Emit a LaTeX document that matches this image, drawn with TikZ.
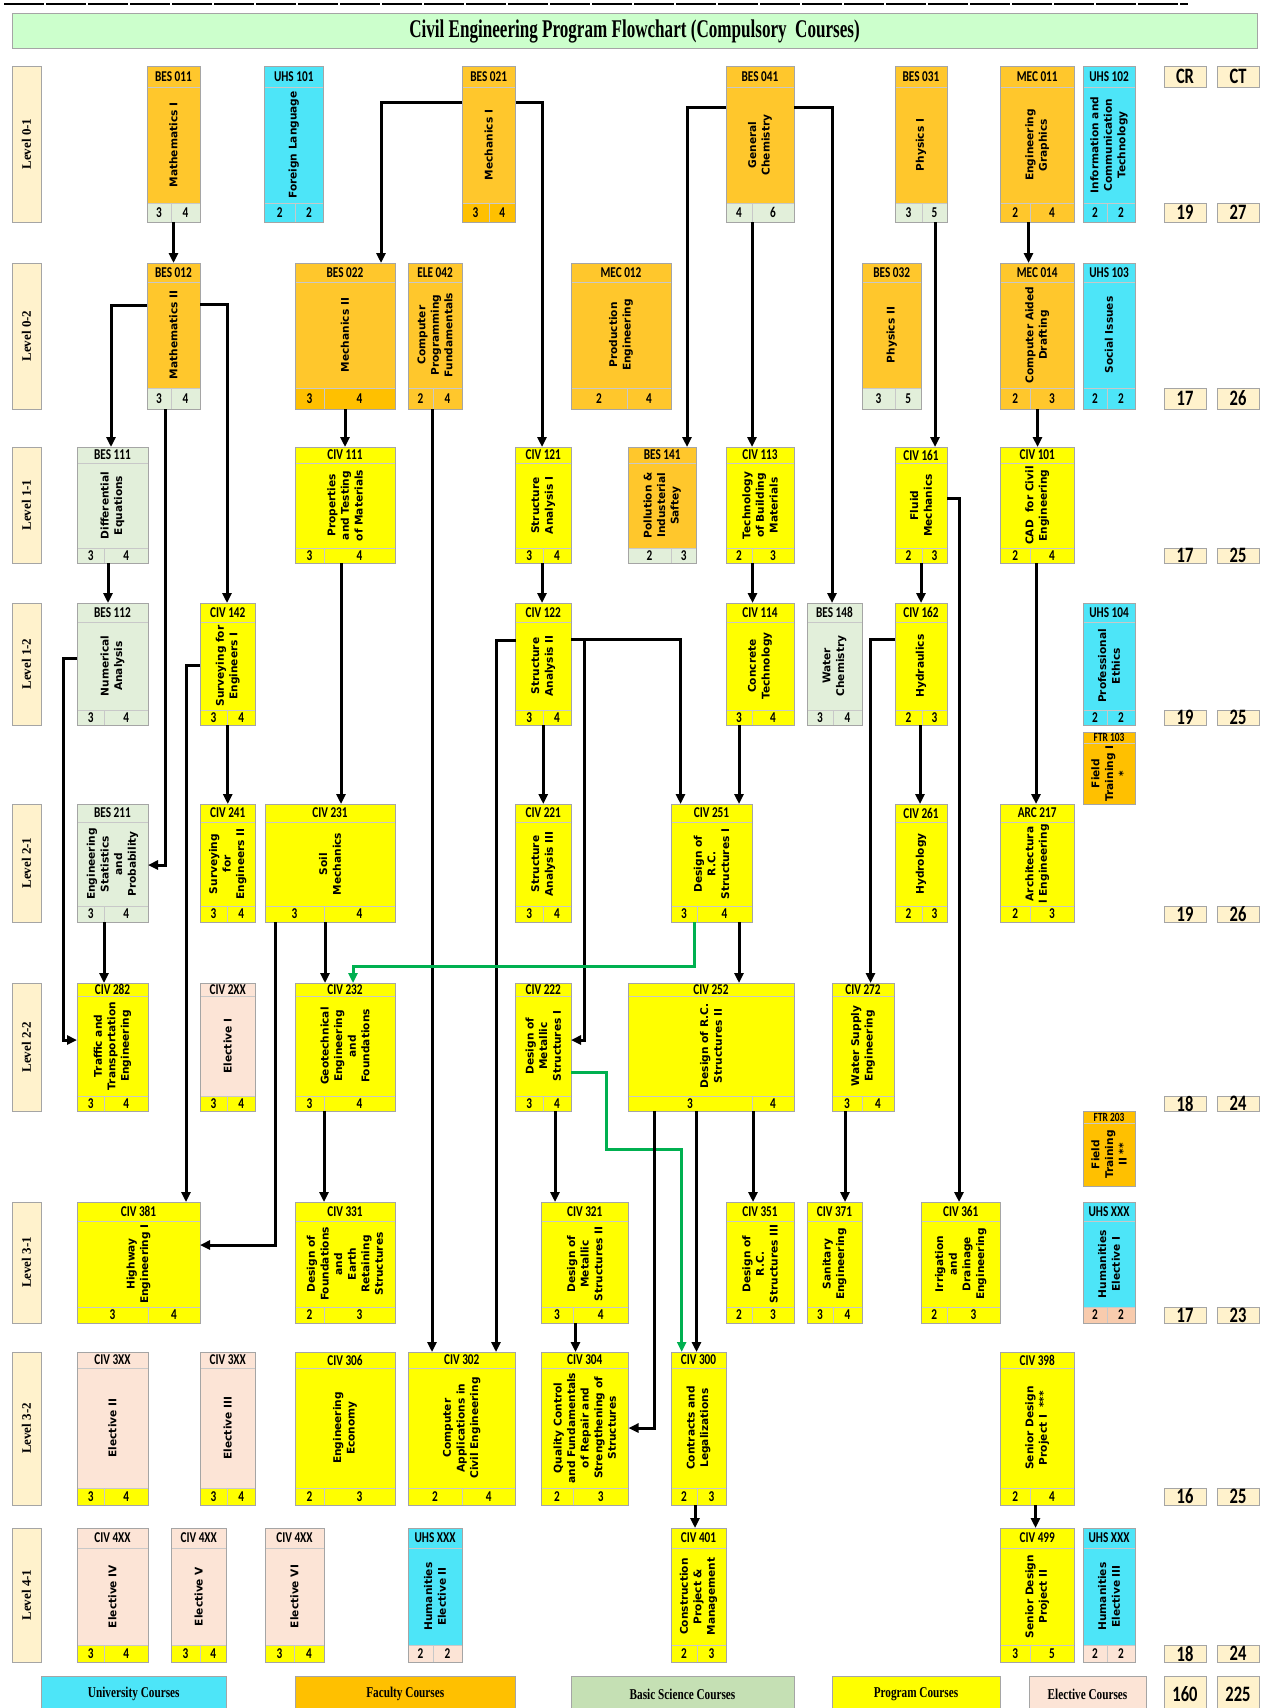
\documentclass[tikz,border=0pt]{standalone}
\usepackage{fontspec}
\setmainfont{DejaVu Sans}
\newfontfamily\bodyfont{DejaVu Sans}
\newfontfamily\condsans{Carlito}[FakeStretch=0.75]
\newfontfamily\serifb{Liberation Serif}
\newfontfamily\titlefont{Liberation Serif}[FakeStretch=0.67]
\newfontfamily\legfont{Liberation Serif}[FakeStretch=0.75]
\usetikzlibrary{arrows.meta}

\definecolor{cyanU}{HTML}{4DE5F8}
\definecolor{facB}{HTML}{FFC72C}
\definecolor{facD}{HTML}{FFC000}
\definecolor{basG}{HTML}{E2EFDA}
\definecolor{basL}{HTML}{C5E0B4}
\definecolor{progY}{HTML}{FFFF00}
\definecolor{elecP}{HTML}{FCE4D6}
\definecolor{humP}{HTML}{F8CBAD}
\definecolor{levF}{HTML}{FFF2CC}
\definecolor{titG}{HTML}{CCFFCC}
\definecolor{arrgreen}{HTML}{00B050}
\definecolor{boxgray}{HTML}{A5A5A5}
\definecolor{sepgray}{HTML}{C8C8C8}

\tikzset{
 boxline/.style={draw=boxgray, line width=0.9pt, rectangle, inner sep=0pt, outer sep=0pt},
 sepline/.style={draw=sepgray, line width=0.8pt},
 codetext/.style={font=\condsans\bfseries\fontsize{15}{15}\selectfont, inner sep=0pt},
 ftrcode/.style={font=\condsans\bfseries\fontsize{12.5}{12.5}\selectfont, inner sep=0pt},
 bodytext/.style={font=\bodyfont\bfseries\fontsize{10.6}{13.6}\selectfont, rotate=90, align=center, inner sep=0pt},
 numtext/.style={font=\condsans\bfseries\fontsize{15}{15}\selectfont, inner sep=0pt},
 lvlbox/.style={boxline, fill=levF, line width=1pt},
 lvltext/.style={font=\serifb\bfseries\fontsize{13}{13}\selectfont, rotate=90, inner sep=0pt},
 totbox/.style={boxline, fill=levF, line width=1pt, minimum width=42pt},
 tottext/.style={font=\condsans\bfseries\fontsize{22}{22}\selectfont, inner sep=0pt},
 legbox/.style={boxline, line width=1pt, font=\legfont\bfseries\fontsize{15}{15}\selectfont},
 conn/.style={line width=3pt, -{Triangle[length=10pt,width=9pt]}, draw=black},
 gconn/.style={conn, draw=arrgreen},
}

\newcommand\setlev[4]{\def\Ya{#1}\def\Yh{#2}\def\Yf{#3}\def\Yb{#4}}
\def\splitcol#1/#2\relax{\def\Cb{#1}\def\Cf{#2}}

% name, x1, xsplit, x2, code, title, n1, n2, body/foot colours
\newcommand\course[9]{%
 \splitcol#9\relax
 \pgfmathsetmacro\qcx{(#2+#4)/2}%
 \pgfmathsetmacro\qcy{(\Ya+\Yb)/2}%
 \pgfmathsetmacro\qbw{#4-#2}%
 \pgfmathsetmacro\qbh{\Yb-\Ya}%
 \pgfmathsetmacro\qhy{(\Ya+\Yh)/2}%
 \pgfmathsetmacro\qby{(\Yh+\Yf)/2}%
 \pgfmathsetmacro\qfy{(\Yf+\Yb)/2}%
 \pgfmathsetmacro\qfa{(#2+#3)/2}%
 \pgfmathsetmacro\qfb{(#3+#4)/2}%
 \fill[fill=\Cb] (#2,\Ya) rectangle (#4,\Yf);
 \fill[fill=\Cf] (#2,\Yf) rectangle (#4,\Yb);
 \draw[sepline] (#2,\Yh) -- (#4,\Yh) (#2,\Yf) -- (#4,\Yf) (#3,\Yf) -- (#3,\Yb);
 \node[boxline, minimum width=\qbw pt, minimum height=\qbh pt] (#1) at (\qcx,\qcy) {};
 \node[codetext] (#1-c) at (\qcx,\qhy) {#5};
 \node[bodytext] (#1-t) at (\qcx,\qby) {#6};
 \node[numtext] (#1-a) at (\qfa,\qfy) {#7};
 \node[numtext] (#1-b) at (\qfb,\qfy) {#8};
}

% name, x1, x2, y1, yh, y2, code, title
\newcommand\ftrbox[8]{%
 \pgfmathsetmacro\qcx{(#2+#3)/2}%
 \pgfmathsetmacro\qcy{(#4+#6)/2}%
 \pgfmathsetmacro\qbw{#3-#2}%
 \pgfmathsetmacro\qbh{#6-#4}%
 \pgfmathsetmacro\qhy{(#4+#5)/2}%
 \pgfmathsetmacro\qby{(#5+#6)/2}%
 \fill[fill=facD] (#2,#4) rectangle (#3,#6);
 \draw[sepline] (#2,#5) -- (#3,#5);
 \node[boxline, minimum width=\qbw pt, minimum height=\qbh pt] (#1) at (\qcx,\qcy) {};
 \node[ftrcode] (#1-c) at (\qcx,\qhy) {#7};
 \node[bodytext] (#1-t) at (\qcx,\qby) {#8};
}

% name, y1, y2, text
\newcommand\lvl[4]{%
 \pgfmathsetmacro\qcy{(#2+#3)/2}%
 \pgfmathsetmacro\qbh{#3-#2}%
 \node[lvlbox, minimum width=29pt, minimum height=\qbh pt] (#1) at (26.5,\qcy) {};
 \node[lvltext] (#1-t) at (26.5,\qcy) {#4};
}

% name, xc, y1, y2, text
\newcommand\tot[5]{%
 \pgfmathsetmacro\qcy{(#3+#4)/2}%
 \pgfmathsetmacro\qbh{#4-#3}%
 \node[totbox, minimum height=\qbh pt] (#1) at (#2,\qcy) {};
 \node[tottext] (#1-t) at (#2,\qcy) {#5};
}

\begin{document}
\begin{tikzpicture}[x=1pt,y=-1pt]
\useasboundingbox (0,0) rectangle (1265,1708);

% top rule and title
\draw[line width=1.6pt, dash pattern=on 40pt off 2pt] (4,4) -- (1188,4);
\node[boxline, fill=titG, line width=1pt, minimum width=1245pt, minimum height=35pt] (title) at (634.5,30.5) {};
\node[font=\titlefont\bfseries\fontsize{25.5}{28}\selectfont, inner sep=0pt] (title-t) at (634.5,31.5) {Civil Engineering Program Flowchart (Compulsory\ \ Courses)};

% level labels
\lvl{l01}{66}{222}{Level 0-1}
\lvl{l02}{263}{409}{Level 0-2}
\lvl{l11}{447}{563}{Level 1-1}
\lvl{l12}{603}{725}{Level 1-2}
\lvl{l21}{804}{922}{Level 2-1}
\lvl{l22}{983}{1111}{Level 2-2}
\lvl{l31}{1202}{1323}{Level 3-1}
\lvl{l32}{1352}{1505}{Level 3-2}
\lvl{l41}{1528}{1662}{Level 4-1}

% Level 0-1
\setlev{66}{87}{203}{222}
\course{bes011}{147}{171}{200}{BES 011}{Mathematics I}{3}{4}{facB/basG}
\course{uhs101}{264.5}{295}{323}{UHS 101}{Foreign Language}{2}{2}{cyanU/cyanU}
\course{bes021}{462}{489}{515.5}{BES 021}{Mechanics I}{3}{4}{facB/facD}
\course{bes041}{726}{752}{794}{BES 041}{General\\Chemistry}{4}{6}{facB/basG}
\course{bes031}{895}{922}{947}{BES 031}{Physics I}{3}{5}{facB/basG}
\course{mec011}{1000.5}{1030}{1074}{MEC 011}{Engineering\\Graphics}{2}{4}{facB/facB}
\course{uhs102}{1083}{1107}{1135}{UHS 102}{Information and\\Communication\\Technology}{2}{2}{cyanU/cyanU}

% Level 0-2
\setlev{263}{282}{388}{409}
\course{bes012}{147}{171}{200}{BES 012}{Mathematics II}{3}{4}{facB/basG}
\course{bes022}{295}{324}{395}{BES 022}{Mechanics II}{3}{4}{facB/facD}
\course{ele042}{408}{433}{462}{ELE 042}{Computer\\Programming\\Fundamentals}{2}{4}{facB/facB}
\course{mec012}{571}{627}{671}{MEC 012}{Production\\Engineering}{2}{4}{facB/facB}
\course{bes032}{862}{895}{921.5}{BES 032}{Physics II}{3}{5}{facB/basG}
\course{mec014}{1000.5}{1030}{1074}{MEC 014}{Computer Aided\\Drafting}{2}{3}{facB/facB}
\course{uhs103}{1083}{1107}{1135}{UHS 103}{Social Issues}{2}{2}{cyanU/cyanU}

% Level 1-1
\setlev{447}{463}{548}{563}
\course{bes111}{77}{104.5}{148}{BES 111}{Differential\\Equations}{3}{4}{basG/basG}
\course{civ111}{295}{324}{395}{CIV 111}{Properties\\and Testing\\of Materials}{3}{4}{progY/progY}
\course{civ121}{515.5}{543}{571}{CIV 121}{Structure\\Analysis I}{3}{4}{progY/progY}
\course{bes141}{628}{671}{696.5}{BES 141}{Pollution \&\\Industerial\\Saftey}{2}{3}{facB/basG}
\course{civ113}{726}{752}{794}{CIV 113}{Technology\\of Building\\Materials}{2}{3}{progY/progY}
\course{civ161}{895}{922}{947}{CIV 161}{Fluid\\Mechanics}{2}{3}{progY/progY}
\course{civ101}{1000.5}{1030}{1074}{CIV 101}{CAD\ \ for Civil\\Engineering}{2}{4}{progY/progY}

% Level 1-2
\setlev{603}{622}{710}{725}
\course{bes112}{77}{104.5}{148}{BES 112}{Numerical\\Analysis}{3}{4}{basG/basG}
\course{civ142}{200}{227}{255.5}{CIV 142}{Surveying for\\Engineers I}{3}{4}{progY/progY}
\course{civ122}{515.5}{543}{571}{CIV 122}{Structure\\Analysis II}{3}{4}{progY/progY}
\course{civ114}{726}{752}{794}{CIV 114}{Concrete\\Technology}{3}{4}{progY/progY}
\course{bes148}{807}{833}{862}{BES 148}{Water\\Chemistry}{3}{4}{basG/basG}
\course{civ162}{895}{922}{947}{CIV 162}{Hydraulics}{2}{3}{progY/progY}
\course{uhs104}{1083}{1107}{1135}{UHS 104}{Professional\\Ethics}{2}{2}{cyanU/cyanU}
\ftrbox{ftr103}{1083}{1135}{732}{743}{804}{FTR 103}{Field\\Training I\\*}

% Level 2-1
\setlev{804}{822}{906}{922}
\course{bes211}{77}{104.5}{148}{BES 211}{Engineering\\Statistics\\and\\Probability}{3}{4}{basG/basG}
\course{civ241}{200}{227}{255.5}{CIV 241}{Surveying\\for\\Engineers II}{3}{4}{progY/progY}
\course{civ231}{265}{324}{395}{CIV 231}{Soil\\Mechanics}{3}{4}{progY/progY}
\course{civ221}{515.5}{543}{571}{CIV 221}{Structure\\Analysis III}{3}{4}{progY/progY}
\course{civ251}{671}{697}{752}{CIV 251}{Design of\\R.C.\\Structures I}{3}{4}{progY/progY}
\course{civ261}{895}{922}{947}{CIV 261}{Hydrology}{2}{3}{progY/progY}
\course{arc217}{1000.5}{1030}{1074}{ARC 217}{Architectura\\l Engineering}{2}{3}{progY/progY}

% Level 2-2
\setlev{983}{996}{1096}{1111}
\course{civ282}{77}{104.5}{148}{CIV 282}{Traffic and\\Transportation\\Engineering}{3}{4}{progY/progY}
\course{civ2xx}{200}{227}{255.5}{CIV 2XX}{Elective I}{3}{4}{elecP/progY}
\course{civ232}{295}{324}{395}{CIV 232}{Geotechnical\\Engineering\\and\\Foundations}{3}{4}{progY/progY}
\course{civ222}{515.5}{543}{571}{CIV 222}{Design of\\Metallic\\Structures I}{3}{4}{progY/progY}
\course{civ252}{628}{752}{794}{CIV 252}{Design of R.C.\\Structures II}{3}{4}{progY/progY}
\course{civ272}{832}{862}{894}{CIV 272}{Water Supply\\Engineering}{3}{4}{progY/progY}
\ftrbox{ftr203}{1083}{1135}{1111}{1123}{1186}{FTR 203}{Field\\Training\\II **}

% Level 3-1
\setlev{1202}{1221}{1307}{1323}
\course{civ381}{77}{148}{200}{CIV 381}{Highway\\Engineering I}{3}{4}{progY/progY}
\course{civ331}{295}{324}{395}{CIV 331}{Design of\\Foundations\\and\\Earth\\Retaining\\Structures}{2}{3}{progY/progY}
\course{civ321}{541}{573}{628.5}{CIV 321}{Design of\\Metallic\\Structures II}{3}{4}{progY/progY}
\course{civ351}{726}{752}{794}{CIV 351}{Design of\\R.C.\\Structures III}{2}{3}{progY/progY}
\course{civ371}{807}{833}{862}{CIV 371}{Sanitary\\Engineering}{3}{4}{progY/progY}
\course{civ361}{921.5}{947}{1000}{CIV 361}{Irrigation\\and\\Drainage\\Engineering}{2}{3}{progY/progY}
\course{uhsA}{1083}{1107}{1135}{UHS XXX}{Humanities\\Elective I}{2}{2}{cyanU/humP}

% Level 3-2
\setlev{1352}{1368}{1488}{1505}
\course{civ3a}{77}{104.5}{148}{CIV 3XX}{Elective II}{3}{4}{elecP/progY}
\course{civ3b}{200}{227}{255.5}{CIV 3XX}{Elective III}{3}{4}{elecP/progY}
\course{civ306}{295}{324}{395}{CIV 306}{Engineering\\Economy}{2}{3}{progY/progY}
\course{civ302}{408}{462}{515.5}{CIV 302}{Computer\\Applications in\\Civil Engineering}{2}{4}{progY/progY}
\course{civ304}{541}{573}{628.5}{CIV 304}{Quality Control\\and Fundamentals\\of Repair and\\Strengthening of\\Structures}{2}{3}{progY/progY}
\course{civ300}{671}{697}{726}{CIV 300}{Contracts and\\Legalizations}{2}{3}{progY/progY}
\course{civ398}{1000.5}{1030}{1074}{CIV 398}{Senior Design\\Project I\ \ ***}{2}{4}{progY/progY}

% Level 4-1
\setlev{1528}{1548}{1645}{1662}
\course{civ4a}{77}{104.5}{148}{CIV 4XX}{Elective IV}{3}{4}{elecP/progY}
\course{civ4b}{171}{200}{226.5}{CIV 4XX}{Elective V}{3}{4}{elecP/progY}
\course{civ4c}{265}{294}{324}{CIV 4XX}{Elective VI}{3}{4}{elecP/progY}
\course{uhsB}{408}{433}{462}{UHS XXX}{Humanities\\Elective II}{2}{2}{cyanU/elecP}
\course{civ401}{671}{697}{726}{CIV 401}{Construction\\Project \&\\Management}{2}{3}{progY/progY}
\course{civ499}{1000.5}{1030}{1074}{CIV 499}{Senior Design\\Project II}{3}{5}{progY/progY}
\course{uhsC}{1083}{1107}{1135}{UHS XXX}{Humanities\\Elective III}{2}{2}{cyanU/elecP}

% totals
\tot{hcr}{1185}{66}{87}{CR}\tot{hct}{1238}{66}{87}{CT}
\tot{t01r}{1185}{203}{222}{19}\tot{t01t}{1238}{203}{222}{27}
\tot{t02r}{1185}{388}{409}{17}\tot{t02t}{1238}{388}{409}{26}
\tot{t11r}{1185}{548}{563}{17}\tot{t11t}{1238}{548}{563}{25}
\tot{t12r}{1185}{710}{725}{19}\tot{t12t}{1238}{710}{725}{25}
\tot{t21r}{1185}{906}{922}{19}\tot{t21t}{1238}{906}{922}{26}
\tot{t22r}{1185}{1096}{1111}{18}\tot{t22t}{1238}{1096}{1111}{24}
\tot{t31r}{1185}{1307}{1323}{17}\tot{t31t}{1238}{1307}{1323}{23}
\tot{t32r}{1185}{1488}{1505}{16}\tot{t32t}{1238}{1488}{1505}{25}
\tot{t41r}{1185}{1645}{1662}{18}\tot{t41t}{1238}{1645}{1662}{24}
\tot{tallr}{1185}{1676}{1712}{160}\tot{tallt}{1238}{1676}{1712}{225}

% legend
\node[legbox, fill=cyanU, minimum width=185.5pt, minimum height=36pt] (legU) at (133.75,1694) {University Courses};
\node[legbox, fill=facD, minimum width=220.5pt, minimum height=36pt] (legF) at (405.25,1694) {Faculty Courses};
\node[legbox, fill=basL, minimum width=223pt, minimum height=36pt] (legB) at (682.5,1694) {Basic Science Courses};
\node[legbox, fill=progY, minimum width=168pt, minimum height=36pt] (legP) at (916,1694) {Program Courses};
\node[legbox, fill=elecP, minimum width=117pt, minimum height=36pt] (legE) at (1087.5,1694) {Elective Courses};

% connectors
\draw[conn] (bes011.south) -- (bes012.north);
\draw[conn] (bes021.west |- 0,102) -| (bes022.north -| 381,0);
\draw[conn] (bes021.east |- 0,102) -| (civ121.north -| 542,0);
\draw[conn] (bes012.west |- 0,305) -| (bes111.north -| 111,0);
\draw[conn] (bes012.east |- 0,304) -| (civ142.north -| 227,0);
\draw[conn] (bes012.south -| 165,0) |- (bes211.east |- 0,865);
\draw[conn] (bes022.south) -- (civ111.north);
\draw[conn] (ele042.south -| 432,0) -- (civ302.north -| 432,0);
\draw[conn] (bes041.west |- 0,107) -| (bes141.north -| 687,0);
\draw[conn] (bes041.south -| 752,0) -- (civ113.north -| 752,0);
\draw[conn] (bes041.east |- 0,107) -| (bes148.north -| 832,0);
\draw[conn] (bes031.south -| 935,0) -- (civ161.north -| 935,0);
\draw[conn] (mec011.south -| 1028.5,0) -- (mec014.north -| 1028.5,0);
\draw[conn] (mec014.south -| 1037.5,0) -- (civ101.north -| 1037.5,0);
\draw[conn] (bes111.south -| 108,0) -- (bes112.north -| 108,0);
\draw[conn] (civ111.south -| 341,0) -- (civ231.north -| 341,0);
\draw[conn] (civ121.south -| 542,0) -- (civ122.north -| 542,0);
\draw[conn] (civ113.south -| 752.5,0) -- (civ114.north -| 752.5,0);
\draw[conn] (civ161.south -| 921,0) -- (civ162.north -| 921,0);
\draw[conn] (civ161.east |- 0,498) -| (civ361.north -| 959,0);
\draw[conn] (civ101.south -| 1036,0) -- (arc217.north -| 1036,0);
\draw[conn] (bes112.west |- 0,658) -- (63,658) |- (civ282.west |- 0,1040);
\draw[conn] (civ142.west |- 0,665) -| (civ381.north -| 186,0);
\draw[conn] (civ142.south) -- (civ241.north);
\draw[conn] (civ122.west |- 0,640) -| (civ302.north -| 496,0);
\draw[conn] (civ122.east |- 0,639) -| (civ251.north -| 680.5,0);
\draw[conn] (civ122.east |- 0,639) -- (584.5,639) |- (civ222.east |- 0,1040);
\draw[conn] (civ122.south) -- (civ221.north);
\draw[conn] (civ114.south -| 739,0) -- (civ251.north -| 739,0);
\draw[conn] (civ162.west |- 0,639) -| (civ272.north -| 870.5,0);
\draw[conn] (civ162.south -| 920,0) -- (civ261.north -| 920,0);
\draw[conn] (bes211.south -| 104,0) -- (civ282.north -| 104,0);
\draw[conn] (civ231.south -| 275,0) |- (civ381.east |- 0,1245);
\draw[conn] (civ231.south -| 325,0) -- (civ232.north -| 325,0);
\draw[gconn] (civ251.south -| 694,0) |- (353,966) -- (civ232.north -| 353,0);
\draw[conn] (civ251.south -| 739,0) -- (civ252.north -| 739,0);
\draw[conn] (civ232.south -| 324,0) -- (civ331.north -| 324,0);
\draw[conn] (civ222.south -| 555,0) -- (civ321.north -| 555,0);
\draw[gconn] (civ222.east |- 0,1072) -| (606,1149) -| (civ300.north -| 681.7,0);
\draw[conn] (civ252.south -| 654,0) |- (civ304.east |- 0,1428);
\draw[conn] (civ252.south -| 696.5,0) -- (civ300.north -| 696.5,0);
\draw[conn] (civ252.south -| 753,0) -- (civ351.north -| 753,0);
\draw[conn] (civ272.south -| 845,0) -- (civ371.north -| 845,0);
\draw[conn] (civ321.south -| 575.5,0) -- (civ304.north -| 575.5,0);
\draw[conn] (civ300.south -| 695,0) -- (civ401.north -| 695,0);
\draw[conn] (civ398.south -| 1035.5,0) -- (civ499.north -| 1035.5,0);
\end{tikzpicture}
\end{document}
